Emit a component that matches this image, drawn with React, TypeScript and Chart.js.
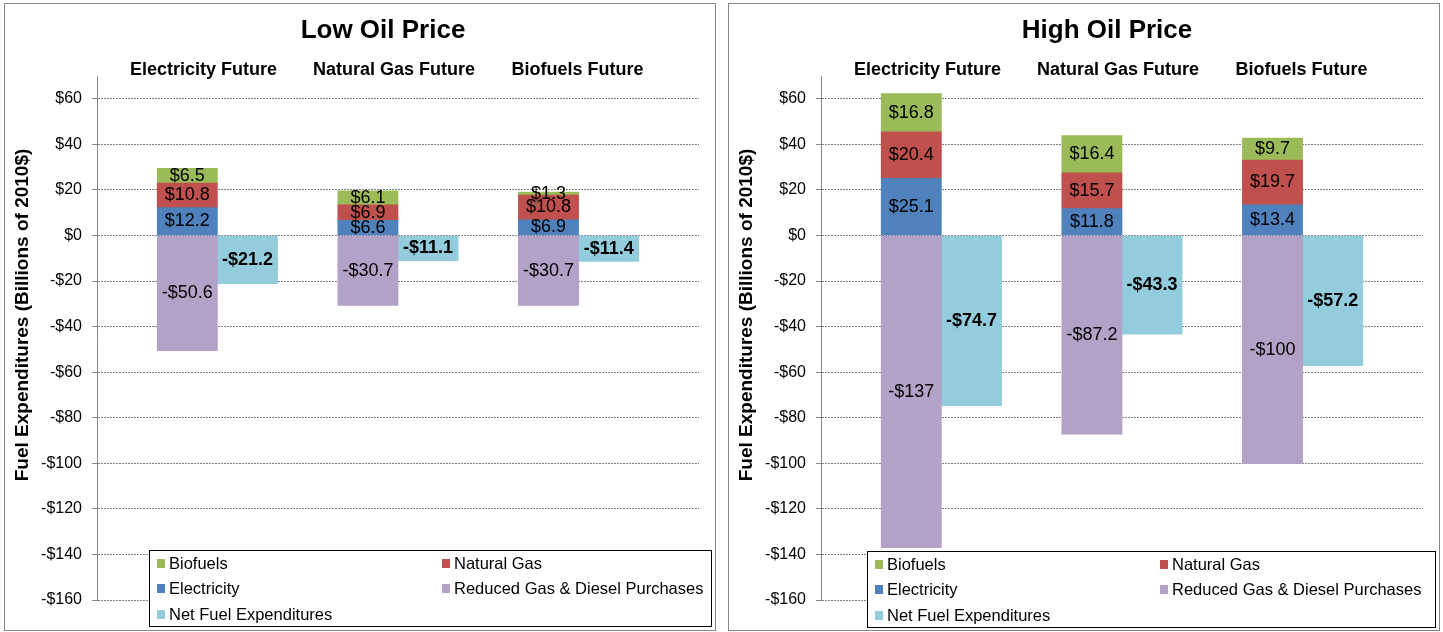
import React, { useEffect, useRef } from 'react';
import { Chart, registerables } from 'chart.js';

Chart.register(...registerables);

const FONT = '"Liberation Sans", Arial, Helvetica, sans-serif';

// ---- data ----
const futures = ['Electricity Future', 'Natural Gas Future', 'Biofuels Future'];
const seriesNames = ['Biofuels', 'Natural Gas', 'Electricity', 'Reduced Gas & Diesel Purchases', 'Net Fuel Expenditures'];
const seriesColors = ['#9BBB59', '#C0504D', '#4F81BD', '#B3A2C7', '#93CDDD'];

const lowBiofuels = [6.5, 6.1, 1.3];
const lowNaturalGas = [10.8, 6.9, 10.8];
const lowElectricity = [12.2, 6.6, 6.9];
const lowReduced = [-50.6, -30.7, -30.7];
const lowNet = [-21.2, -11.1, -11.4];

const highBiofuels = [16.8, 16.4, 9.7];
const highNaturalGas = [20.4, 15.7, 19.7];
const highElectricity = [25.1, 11.8, 13.4];
const highReduced = [-137, -87.2, -100];
const highNet = [-74.7, -43.3, -57.2];

const yMin = -160;
const yMax = 70;
const yStep = 20;
const yLastLabel = 60;

const yAxisTitle = 'Fuel Expenditures (Billions of 2010$)';
const subtitleShift = [-14, -4, -1];

// slot layout: blank, stack, net, blank, stack, net, blank, stack, net, blank
const SLOT_COUNT = 10;
const slotLabels = Array.from({ length: SLOT_COUNT }, (_, i) => String(i));
function toSlots(vals: number[], offset: number) {
  const arr: (number | null)[] = Array(SLOT_COUNT).fill(null);
  vals.forEach((v, i) => {
    arr[1 + 3 * i + offset] = v;
  });
  return arr;
}

function fmt(v: number) {
  return v < 0 ? '-$' + Math.abs(v) : '$' + v;
}

const barLabelPlugin = {
  id: 'barLabels',
  afterDatasetsDraw(chart: any) {
    const ctx = chart.ctx;
    chart.data.datasets.forEach((ds: any, di: number) => {
      const meta = chart.getDatasetMeta(di);
      meta.data.forEach((el: any, i: number) => {
        const v = ds.data[i];
        if (v == null) return;
        const p = el.getProps(['x', 'y', 'base'], true);
        ctx.save();
        ctx.font = (ds.boldLabel ? 'bold ' : '') + '18px ' + FONT;
        ctx.fillStyle = '#000';
        ctx.textAlign = 'center';
        ctx.textBaseline = 'middle';
        ctx.fillText(fmt(v), p.x, (p.y + p.base) / 2);
        ctx.restore();
      });
    });
  },
};

const decorPlugin = {
  id: 'decor',
  afterDraw(chart: any) {
    const ctx = chart.ctx;
    const area = chart.chartArea;
    const xs = chart.scales.x;
    const opts = chart.options.plugins.decor;
    ctx.save();
    ctx.fillStyle = '#000';
    ctx.textAlign = 'center';
    ctx.textBaseline = 'middle';
    // title
    ctx.font = 'bold 26px ' + FONT;
    ctx.fillText(opts.title, (area.left + area.right) / 2 - 15, 27);
    // subtitles
    ctx.font = 'bold 18px ' + FONT;
    futures.forEach((f, i) => {
      const cx = (xs.getPixelForValue(1 + 3 * i) + xs.getPixelForValue(2 + 3 * i)) / 2 + subtitleShift[i];
      ctx.fillText(f, cx, 66);
    });
    // y title
    ctx.save();
    ctx.translate(18, (area.top + area.bottom) / 2 - 23);
    ctx.rotate(-Math.PI / 2);
    ctx.font = 'bold 19px ' + FONT;
    ctx.fillText(yAxisTitle, 0, 0);
    ctx.restore();
    // legend
    const lx = area.left + opts.legendOffset;
    const ly = opts.legendTop;
    const lr = chart.width - 3;
    const lb = ly + 77;
    ctx.fillStyle = '#fff';
    ctx.fillRect(lx, ly, lr - lx, lb - ly);
    ctx.strokeStyle = '#000';
    ctx.lineWidth = 1;
    ctx.strokeRect(lx + 0.5, ly + 0.5, lr - lx - 1, lb - ly - 1);
    ctx.font = '16.5px ' + FONT;
    ctx.textAlign = 'left';
    const rowY = [13, 38, 64];
    const colX = [8, 293];
    seriesNames.forEach((name, i) => {
      const col = i % 2;
      const row = Math.floor(i / 2);
      const mx = lx + colX[col];
      const my = ly + rowY[row];
      ctx.fillStyle = seriesColors[i];
      ctx.fillRect(mx, my - 4, 8, 9);
      ctx.fillStyle = '#000';
      ctx.fillText(name, mx + 12, my + 1);
    });
    ctx.restore();
  },
};

type PanelProps = {
  title: string;
  biofuels: number[];
  naturalGas: number[];
  electricity: number[];
  reduced: number[];
  net: number[];
  left: number;
  legendOffset: number;
  legendTop: number;
};

function Panel(props: PanelProps) {
  const ref = useRef<HTMLCanvasElement | null>(null);
  useEffect(() => {
    const canvas = ref.current;
    if (!canvas) return;
    const mk = (idx: number, data: (number | null)[], extra: any = {}) => ({
      label: seriesNames[idx],
      data,
      backgroundColor: seriesColors[idx],
      borderWidth: 0,
      barPercentage: 1,
      categoryPercentage: 1,
      stack: 's',
      ...extra,
    });
    const chart = new Chart(canvas, {
      type: 'bar',
      data: {
        labels: slotLabels,
        datasets: [
          mk(2, toSlots(props.electricity, 0)),
          mk(1, toSlots(props.naturalGas, 0)),
          mk(0, toSlots(props.biofuels, 0)),
          mk(3, toSlots(props.reduced, 0)),
          mk(4, toSlots(props.net, 1), { boldLabel: true }),
        ] as any,
      },
      options: {
        responsive: false,
        animation: false,
        layout: { padding: { left: 0, right: 16, top: 72, bottom: 30 } },
        plugins: {
          legend: { display: false },
          title: { display: false },
          tooltip: { enabled: false },
          decor: { title: props.title, legendOffset: props.legendOffset, legendTop: props.legendTop },
        } as any,
        scales: {
          x: {
            display: false,
            stacked: true,
          },
          y: {
            stacked: true,
            min: yMin,
            max: yMax,
            afterFit(scale: any) {
              scale.width = 92;
            },
            afterBuildTicks(scale: any) {
              scale.ticks = scale.ticks.filter((t: any) => t.value <= yLastLabel);
            },
            ticks: {
              stepSize: yStep,
              padding: 10,
              color: '#000',
              font: { family: FONT, size: 16 },
              callback: (v: any) => fmt(Number(v)),
            },
            grid: {
              color: '#808080',
              lineWidth: 1,
              tickLength: 5,
              tickColor: '#868686',
              drawTicks: true,
            },
            border: {
              display: true,
              color: '#868686',
              width: 1,
              dash: [2, 1],
            },
          },
        },
      },
      plugins: [barLabelPlugin, decorPlugin],
    } as any);
    return () => chart.destroy();
  }, []);
  return (
    <div
      style={{
        position: 'absolute',
        left: props.left,
        top: 3,
        width: 710,
        height: 626,
        border: '1px solid #868686',
        background: '#fff',
      }}
    >
      <canvas ref={ref} width={710} height={626} style={{ display: 'block', width: 710, height: 626 }} />
    </div>
  );
}

export default function App() {
  return (
    <div style={{ position: 'absolute', left: 0, top: 0, width: 1443, height: 632, background: '#fff' }}>
      <Panel
        title="Low Oil Price"
        biofuels={lowBiofuels}
        naturalGas={lowNaturalGas}
        electricity={lowElectricity}
        reduced={lowReduced}
        net={lowNet}
        left={4}
        legendOffset={52}
        legendTop={546}
      />
      <Panel
        title="High Oil Price"
        biofuels={highBiofuels}
        naturalGas={highNaturalGas}
        electricity={highElectricity}
        reduced={highReduced}
        net={highNet}
        left={728}
        legendOffset={46}
        legendTop={547}
      />
    </div>
  );
}
